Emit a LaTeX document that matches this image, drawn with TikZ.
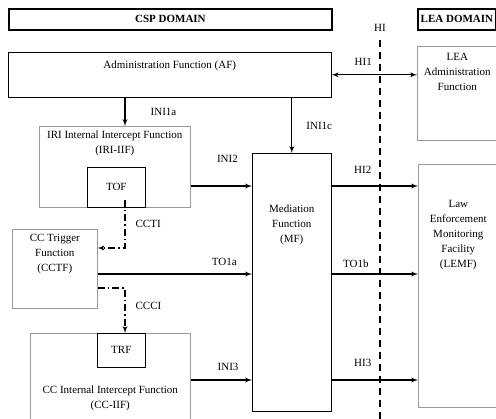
\documentclass[tikz,border=0pt]{standalone}
\usepackage{fontspec}
\setmainfont{Liberation Serif}
\usetikzlibrary{positioning, arrows}
\tikzset{node distance=1cm, % Default distance, mostly overridden below
every node/.style={ % Same serif text everywhere
font=\fontsize{11}{15}\selectfont},
dombox/.style={ % Thick framed domain headers
draw, line width=1.8pt, anchor=north west, inner sep=0pt,
font=\fontsize{11}{15}\selectfont\bfseries},
fbox/.style={ % Black function boxes
draw, semithick, anchor=north west, inner sep=0pt},
gbox/.style={ % Grey outlined function boxes
draw=gray!80, semithick, anchor=north west, inner sep=0pt},
txt/.style={align=center, inner sep=0pt},
lbl/.style={inner sep=0pt},
link/.style={ % Interfaces between the functions
draw,->,>=latex', line width=1.3pt},
trig/.style={ % Trigger interfaces
draw,->,>=latex', line width=1.3pt,
dash pattern=on 7pt off 3pt on 1.5pt off 3pt}}

\begin{document}
\begin{tikzpicture}[x=1pt, y=-1pt]

    \useasboundingbox (0,0) rectangle (496,419);

    \node[dombox, minimum width=323pt, minimum height=21pt] (csp) at (8,8) {CSP DOMAIN};
    \node[dombox, minimum width=78pt, minimum height=21pt] (lea) at (417,8) {LEA DOMAIN};

    \node[fbox, minimum width=323pt, minimum height=45pt] (af) at (8,52) {};
    \node[gbox, minimum width=80pt, minimum height=94pt] (leaadm) at (417,46) {};
    \node[gbox, minimum width=151pt, minimum height=81pt] (iri) at (39,126) {};
    \node[fbox, minimum width=58pt, minimum height=40pt] (tof) at (87,167) {TOF};
    \node[gbox, minimum width=85pt, minimum height=79pt] (cctf) at (12,229) {};
    \node[fbox, minimum width=79pt, minimum height=258pt] (mf) at (252,153) {};
    \node[gbox, minimum width=80pt, minimum height=243pt] (lemf) at (418,164) {};
    \node[gbox, minimum width=160pt, minimum height=97pt] (cciif) at (30,333) {};
    \node[fbox, minimum width=48pt, minimum height=34pt] (trf) at (97,333) {TRF};

    \node[txt, below=9pt of af.north] {Administration Function (AF)};
    \node[txt, below=7pt of leaadm.north] {LEA\\Administration\\Function};
    \node[txt, below=4.5pt of iri.north] {IRI Internal Intercept Function\\(IRI-IIF)};
    \node[txt, below=5.5pt of cctf.north] {CC Trigger\\Function\\(CCTF)};
    \node[txt, below=52pt of mf.north] {Mediation\\Function\\(MF)};
    \node[txt, below=36.5pt of lemf.north] {Law\\Enforcement\\Monitoring\\Facility\\(LEMF)};
    \node[txt, below=53pt of cciif.north] {CC Internal Intercept Function\\(CC-IIF)};

    \node[lbl] (hi) at (380,28) {HI};
    \coordinate (tap) at (125,0);
    \coordinate (r2) at (0,186);
    \coordinate (r3) at (0,274);
    \coordinate (r4) at (0,380);
    \coordinate (ccti) at (125,248);
    \coordinate (ccci) at (125,288);

    \draw[dash pattern=on 7pt off 5pt, line width=1.2pt] ([yshift=-8pt]hi.south) -- (hi.south |- 0,419);

    \draw[link, <->] (af.east) -- node[lbl, above=8.5pt, pos=0.37] {HI1} (af.east -| leaadm.west);
    \draw[link] (af.south -| tap) -- node[lbl, right=25pt] {INI1a} (iri.north -| tap);
    \draw[link] (af.south -| mf.north) -- node[lbl, right=14pt, pos=0.52] {INI1c} (mf.north);
    \draw[link] (iri.east |- r2) -- node[lbl, above=23pt, pos=0.6] {INI2} (mf.west |- r2);
    \draw[link] (mf.east |- r2) -- node[lbl, above=12pt, pos=0.36] {HI2} (lemf.west |- r2);
    \draw[link] (cctf.east |- r3) -- node[lbl, above=7.5pt, pos=0.82] {TO1a} (mf.west |- r3);
    \draw[link] (mf.east |- r3) -- node[lbl, above=5.5pt, pos=0.28] {TO1b} (lemf.west |- r3);
    \draw[link] (cciif.east |- r4) -- node[lbl, above=8.5pt, pos=0.61] {INI3} (mf.west |- r4);
    \draw[link] (mf.east |- r4) -- node[lbl, above=12.5pt, pos=0.36] {HI3} (lemf.west |- r4);
    \draw[trig] ([yshift=8pt]iri.south -| ccti) -- node[lbl, right=10pt] {CCTI} (ccti) -- (ccti -| cctf.east);
    \draw[trig] (ccci -| cctf.east) -- (ccci) -- node[lbl, right=10pt, pos=0.4] {CCCI} (ccci |- trf.north);

\end{tikzpicture}
\end{document}
